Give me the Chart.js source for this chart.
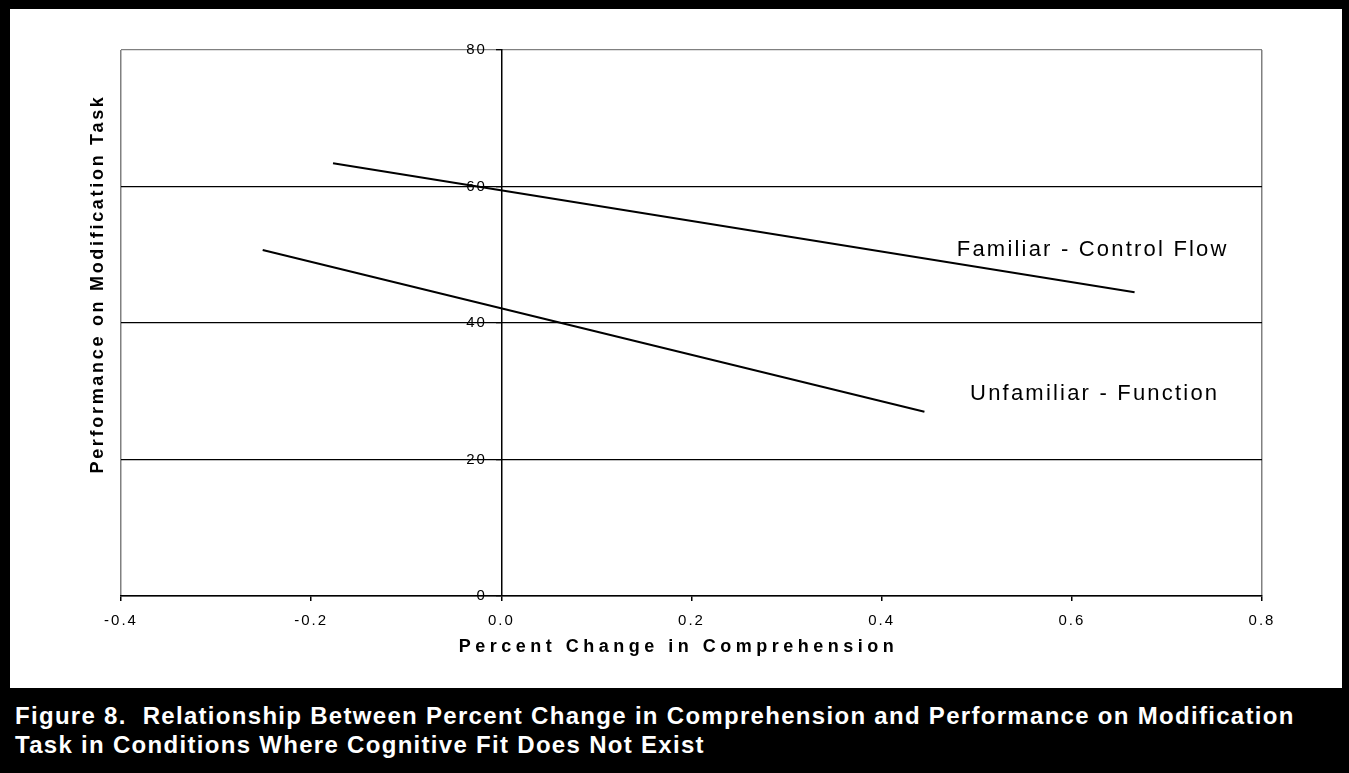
<!DOCTYPE html>
<html lang="en">
<head>
<meta charset="UTF-8" />
<title>Figure 8</title>
<script src="https://cdn.jsdelivr.net/npm/chart.js"></script>
<style>
    body {
        margin: 0;
        background-color: #000;
        font-family: "Liberation Sans", Arial, sans-serif;
    }

    .frame {
        position: relative;
        width: 1349px;
        height: 773px;
        background-color: #000;
        overflow: hidden;
    }

    .panel {
        position: absolute;
        left: 10px;
        top: 9px;
        width: 1332px;
        height: 679px;
        background-color: #fff;
    }

    .caption {
        position: absolute;
        left: 15px;
        top: 701px;
        color: #fff;
        font-weight: bold;
        font-size: 24px;
        letter-spacing: 1.3px;
        line-height: 29px;
        white-space: nowrap;
    }
</style>
</head>
<body>
<div class="frame">
    <div class="panel">
        <canvas id="fitChart" width="1332" height="679"></canvas>
    </div>
    <div class="caption">
        Figure 8.&nbsp; Relationship Between Percent Change in Comprehension and Performance on Modification<br>
        Task in Conditions Where Cognitive Fit Does Not Exist
    </div>
</div>

<script>
    // data
    const seriesNames = ['Familiar - Control Flow', 'Unfamiliar - Function'];
    const familiarX = [-0.177, 0.666];
    const familiarY = [63.4, 44.5];
    const unfamiliarX = [-0.251, 0.445];
    const unfamiliarY = [50.7, 27.0];

    // where each line's name sits (data units)
    const labelX = [0.479, 0.493];
    const labelY = [50.7, 29.6];

    const xTicks = [-0.4, -0.2, 0.0, 0.2, 0.4, 0.6, 0.8];
    const yTicks = [0, 20, 40, 60, 80];
    const xTitle = 'Percent Change in Comprehension';
    const yTitle = 'Performance on Modification Task';

    const toPoints = (xs, ys) => xs.map((v, i) => ({ x: v, y: ys[i] }));

    const textPlugin = {
        id: 'texts',
        beforeDraw(chart) {
            chart.ctx.letterSpacing = '2px';
        },
        afterDraw(chart) {
            const { ctx, chartArea, scales: { x, y } } = chart;
            ctx.save();
            ctx.fillStyle = '#000';

            // line names
            ctx.font = '22px "Liberation Sans", Arial';
            ctx.letterSpacing = '2.2px';
            ctx.textAlign = 'left';
            ctx.textBaseline = 'middle';
            seriesNames.forEach((name, i) => {
                ctx.fillText(name, x.getPixelForValue(labelX[i]), y.getPixelForValue(labelY[i]));
            });

            // x title
            ctx.font = 'bold 18px "Liberation Sans", Arial';
            ctx.letterSpacing = '4.5px';
            ctx.textAlign = 'center';
            ctx.fillText(xTitle, (chartArea.left + chartArea.right) / 2 - 13, chartArea.bottom + 51);

            // y title
            ctx.letterSpacing = '2.7px';
            ctx.translate(chartArea.left - 23, (chartArea.top + chartArea.bottom) / 2 - 39);
            ctx.rotate(-Math.PI / 2);
            ctx.fillText(yTitle, 0, 0);
            ctx.restore();
        }
    };

    new Chart(document.getElementById('fitChart'), {
        type: 'scatter',
        data: {
            datasets: [
                {
                    label: seriesNames[0],
                    data: toPoints(familiarX, familiarY),
                    showLine: true,
                    borderColor: '#000',
                    borderWidth: 2,
                    pointRadius: 0
                },
                {
                    label: seriesNames[1],
                    data: toPoints(unfamiliarX, unfamiliarY),
                    showLine: true,
                    borderColor: '#000',
                    borderWidth: 2,
                    pointRadius: 0
                }
            ]
        },
        options: {
            responsive: false,
            animation: false,
            layout: { padding: { left: 111, right: 80, top: 41, bottom: 47 } },
            plugins: {
                legend: { display: false },
                tooltip: { enabled: false }
            },
            scales: {
                x: {
                    type: 'linear',
                    position: 'bottom',
                    min: xTicks[0],
                    max: xTicks[xTicks.length - 1],
                    afterBuildTicks: axis => { axis.ticks = xTicks.map(v => ({ value: v })); },
                    ticks: {
                        color: '#000',
                        padding: 11,
                        font: { family: '"Liberation Sans", Arial', size: 15 },
                        callback: v => (Math.abs(v) < 1e-9 ? 0 : v).toFixed(1)
                    },
                    grid: {
                        drawOnChartArea: true,
                        color: c => (c.tick && (c.index === 0 || c.index === xTicks.length - 1)) ? '#808080' : 'rgba(0,0,0,0)',
                        tickColor: '#000',
                        tickLength: 5,
                        lineWidth: 1.5
                    },
                    border: { color: '#000', width: 1.5 }
                },
                y: {
                    type: 'linear',
                    position: { x: 0 },
                    min: yTicks[0],
                    max: yTicks[yTicks.length - 1],
                    afterBuildTicks: axis => { axis.ticks = yTicks.map(v => ({ value: v })); },
                    ticks: {
                        color: '#000',
                        padding: 12,
                        font: { family: '"Liberation Sans", Arial', size: 15 },
                        // the label sits off the axis line, as in the original
                        callback: v => v + '\u2002\u2009'
                    },
                    grid: {
                        color: c => (c.tick && c.tick.value === 80) ? '#808080' : '#000',
                        tickColor: '#000',
                        tickLength: 5,
                        lineWidth: 1.3
                    },
                    border: { color: '#000', width: 1.5 }
                }
            }
        },
        plugins: [textPlugin]
    });
</script>
</body>
</html>
